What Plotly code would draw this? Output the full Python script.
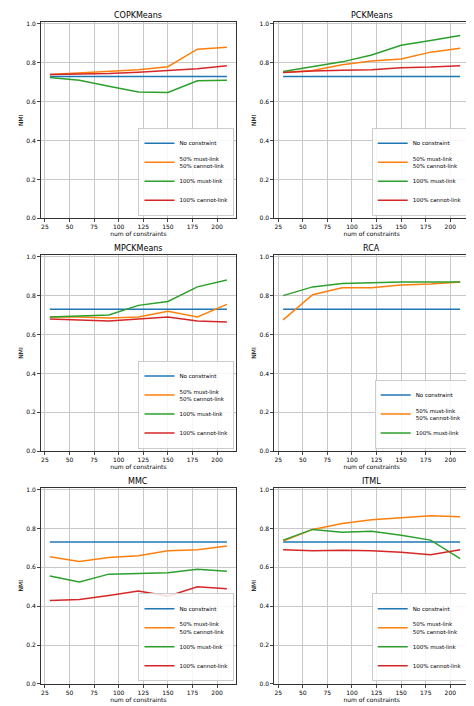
import plotly.graph_objs as go
from plotly.subplots import make_subplots

x = [30, 60, 90, 120, 150, 180, 210]
titles = ['COPKMeans', 'PCKMeans', 'MPCKMeans', 'RCA', 'MMC', 'ITML']
names = ['No constraint', '50% must-link<br>50% cannot-link', '100% must-link', '100% cannot-link']
colors = ['#1f77b4', '#ff7f0e', '#2ca02c', '#d62728']

none = [0.73] * 7
copk = [none,
        [0.74, 0.748, 0.755, 0.765, 0.78, 0.87, 0.88],
        [0.725, 0.71, 0.68, 0.65, 0.648, 0.708, 0.71],
        [0.74, 0.742, 0.745, 0.752, 0.76, 0.77, 0.785]]
pck = [none,
       [0.75, 0.76, 0.79, 0.81, 0.82, 0.855, 0.875],
       [0.755, 0.78, 0.805, 0.84, 0.89, 0.915, 0.94],
       [0.75, 0.758, 0.762, 0.765, 0.775, 0.778, 0.785]]
mpck = [none,
        [0.69, 0.69, 0.685, 0.69, 0.72, 0.69, 0.755],
        [0.69, 0.695, 0.70, 0.75, 0.77, 0.845, 0.88],
        [0.68, 0.675, 0.67, 0.68, 0.69, 0.67, 0.665]]
rca = [none,
       [0.675, 0.805, 0.84, 0.84, 0.855, 0.86, 0.87],
       [0.80, 0.845, 0.862, 0.866, 0.87, 0.87, 0.87]]
mmc = [none,
       [0.655, 0.63, 0.65, 0.66, 0.685, 0.69, 0.71],
       [0.555, 0.525, 0.565, 0.57, 0.572, 0.59, 0.58],
       [0.43, 0.435, 0.455, 0.478, 0.452, 0.50, 0.49]]
itml = [none,
        [0.735, 0.795, 0.825, 0.845, 0.855, 0.865, 0.86],
        [0.74, 0.795, 0.78, 0.785, 0.765, 0.74, 0.645],
        [0.69, 0.685, 0.688, 0.685, 0.678, 0.665, 0.69]]
panels = [copk, pck, mpck, rca, mmc, itml]

fig = make_subplots(rows=3, cols=2, subplot_titles=titles,
                    horizontal_spacing=0.09, vertical_spacing=0.055)
fig.update_annotations(font=dict(size=8, color='black', family='DejaVu Sans'))

for i, series in enumerate(panels):
    r, c = i // 2 + 1, i % 2 + 1
    k = i + 1
    for j, y in enumerate(series):
        fig.add_trace(go.Scatter(x=x, y=y, mode='lines', name=names[j],
                                 line=dict(color=colors[j], width=1.5),
                                 legend='legend' if k == 1 else 'legend%d' % k),
                      row=r, col=c)
    fig.update_xaxes(range=[21, 219], tickvals=[25, 50, 75, 100, 125, 150, 175, 200],
                     title=dict(text='num of constraints', font=dict(size=6), standoff=2),
                     row=r, col=c)
    fig.update_yaxes(range=[0, 1.01], tickvals=[0, 0.2, 0.4, 0.6, 0.8, 1.0],
                     tickformat='.1f', title=dict(text='NMI', font=dict(size=6), standoff=2),
                     row=r, col=c)

fig.update_xaxes(showline=True, mirror=True, linecolor='#333333', linewidth=0.8,
                 gridcolor='#c8c8c8', ticks='outside', ticklen=3,
                 tickfont=dict(size=6), zeroline=False)
fig.update_yaxes(showline=True, mirror=True, linecolor='#333333', linewidth=0.8,
                 gridcolor='#c8c8c8', ticks='outside', ticklen=3,
                 tickfont=dict(size=6), zeroline=False)

lay = {}
for k in range(1, 7):
    xa = fig.layout['xaxis' if k == 1 else 'xaxis%d' % k].domain
    ya = fig.layout['yaxis' if k == 1 else 'yaxis%d' % k].domain
    lay['legend' if k == 1 else 'legend%d' % k] = dict(
        x=xa[1] - 0.003, y=ya[0] + 0.004, xanchor='right', yanchor='bottom',
        bgcolor='rgba(255,255,255,0.85)', bordercolor='#cccccc', borderwidth=1,
        font=dict(size=5.5), tracegroupgap=0, itemwidth=30)

fig.update_layout(width=474, height=706, showlegend=True,
                  margin=dict(l=28, r=12, t=12, b=20),
                  plot_bgcolor='white', paper_bgcolor='white',
                  font=dict(family='DejaVu Sans', color='black'), **lay)

fig.write_html('out.html')
